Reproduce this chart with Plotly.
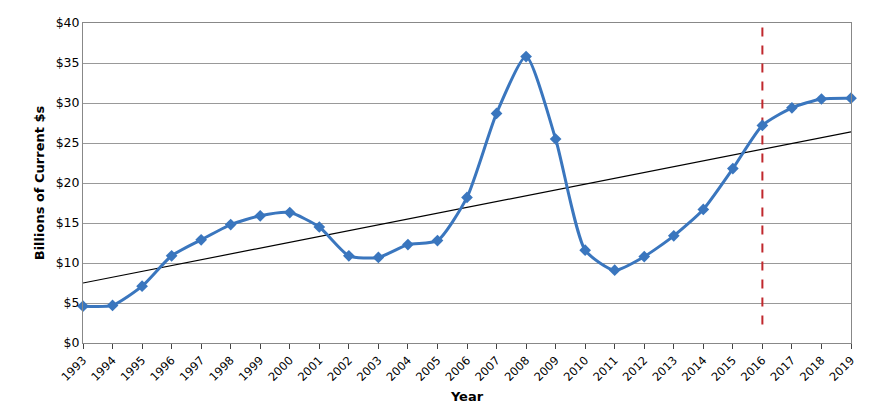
import plotly.graph_objects as go

years = list(range(1993, 2020))
values = [4.6, 4.7, 7.1, 10.9, 12.9, 14.8, 15.9, 16.3, 14.5, 10.9, 10.7, 12.3, 12.8,
          18.2, 28.7, 35.8, 25.5, 11.6, 9.1, 10.8, 13.4, 16.7, 21.8, 27.2, 29.4, 30.5, 30.6]
trend_x = [1993, 2019]
trend_y = [7.5, 26.4]
marker_year = 2016
marker_range = [2.3, 40]

fig = go.Figure()
fig.add_trace(go.Scatter(x=trend_x, y=trend_y, mode="lines",
                         line=dict(color="black", width=1.2), showlegend=False))
fig.add_trace(go.Scatter(x=[marker_year, marker_year], y=marker_range, mode="lines",
                         line=dict(color="#c0282d", width=2, dash="dash"), showlegend=False))
fig.add_trace(go.Scatter(x=years, y=values, mode="lines+markers",
                         line=dict(color="#3a76be", width=3, shape="spline", smoothing=0.6),
                         marker=dict(symbol="diamond", size=9, color="#3a76be"),
                         showlegend=False, cliponaxis=False))

fig.update_layout(
    width=870, height=415,
    margin=dict(l=75, r=27, t=15, b=80, autoexpand=False),
    plot_bgcolor="white", paper_bgcolor="white",
    font=dict(family="DejaVu Sans", size=12, color="black"),
    xaxis=dict(range=[1993, 2019], tickmode="array", tickvals=years,
               ticktext=[str(y) for y in years], tickangle=-45,
               showgrid=False, showline=True, linecolor="#888", ticks="outside",
               tickfont=dict(size=11.5), automargin=False,
               title=dict(text="<b>Year</b>", font=dict(size=13), standoff=8)),
    yaxis=dict(range=[0, 40], dtick=5, tickprefix="$", showgrid=True, gridcolor="#999",
               gridwidth=1, showline=True, linecolor="#888", mirror=True,
               tickfont=dict(size=12.5), automargin=False,
               title=dict(text="<b>Billions of Current $s</b>", font=dict(size=13), standoff=8)),
)
fig.update_xaxes(mirror=True)

fig.write_html("out.html")
